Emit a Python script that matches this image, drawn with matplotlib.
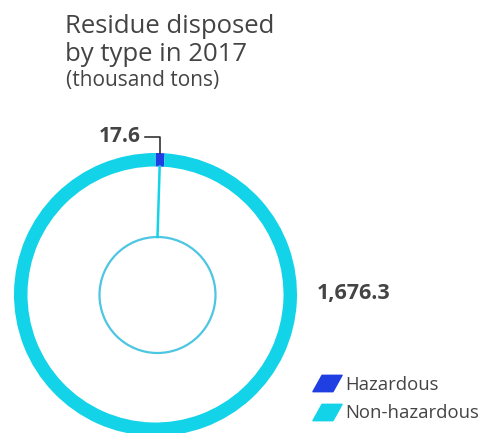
import numpy as np
import matplotlib
matplotlib.use("Agg")
import matplotlib.pyplot as plt
from matplotlib.path import Path
from matplotlib.lines import Line2D
from matplotlib.patches import Circle

# data
categories = ["Hazardous", "Non-hazardous"]
values = [17.6, 1676.3]
value_labels = ["17.6", "1,676.3"]
colors = ["#1f3fe3", "#12d3e8"]
title_lines = ["Residue disposed", "by type in 2017"]
subtitle = "(thousand tons)"

W, H = 482, 433
plt.rcParams['font.family'] = ['Open Sans', 'DejaVu Sans']
text_color = "#444444"

fig = plt.figure(figsize=(W / 100, H / 100), dpi=100)
ax = fig.add_axes([0, 0, 1, 1])

# ring
cx, cy = 155.5, H - 294.5
r_out, ring_w = 141.5, 13.5
ax.pie(values, colors=colors, radius=r_out, center=(cx, cy), startangle=90,
       counterclock=False, wedgeprops=dict(width=ring_w, linewidth=0))
ax.set_xlim(0, W)
ax.set_ylim(0, H)
ax.set_aspect('equal')
ax.axis('off')

# inner circle and connector from the hazardous slice
icx, icy, ir = 157.5, H - 295, 58
ax.add_patch(Circle((icx, icy), ir, fill=False, edgecolor="#4cc6e2", linewidth=1.6))
frac = values[0] / sum(values)
mid = np.deg2rad(90 - frac * 360 / 2)
x_in = cx + (r_out - ring_w) * np.cos(mid)
y_in = cy + (r_out - ring_w) * np.sin(mid)
ax.plot([x_in, icx], [y_in, icy + ir], color="#12d3e8", linewidth=1.8)

# label leader for the small slice
x_out = cx + r_out * np.cos(mid)
y_out = cy + r_out * np.sin(mid)
ax.plot([x_out, x_out, x_out - 15], [y_out, H - 137, H - 137], color="#222222", linewidth=1.1)
ax.text(x_out - 19, H - 136, value_labels[0], ha='right', va='center',
        fontsize=15, fontweight='bold', color=text_color)
ax.text(317, H - 293, value_labels[1], ha='left', va='center',
        fontsize=15.5, fontweight='bold', color=text_color)

# title
for i, line in enumerate(title_lines):
    ax.text(65, H - 33 - 28 * i, line, ha='left', va='baseline',
            fontsize=18.5, color=text_color)
ax.text(66, H - 86, subtitle, ha='left', va='baseline',
        fontsize=15, color=text_color)

# legend with slanted markers
para = Path([(-0.8, -0.45), (0.3, -0.45), (0.8, 0.45), (-0.3, 0.45), (-0.8, -0.45)],
            [Path.MOVETO, Path.LINETO, Path.LINETO, Path.LINETO, Path.CLOSEPOLY])
handles = [Line2D([], [], linestyle='none', marker=para, markersize=21,
                  markerfacecolor=c, markeredgecolor=c) for c in colors]
ax.legend(handles, categories, loc='lower left', bbox_to_anchor=(313 / W, 11 / H),
          frameon=False, fontsize=13.3, labelcolor=text_color, handlelength=1.5,
          handletextpad=0.25, labelspacing=0.55, borderpad=0, borderaxespad=0)

fig.savefig("out.png", dpi=100)
